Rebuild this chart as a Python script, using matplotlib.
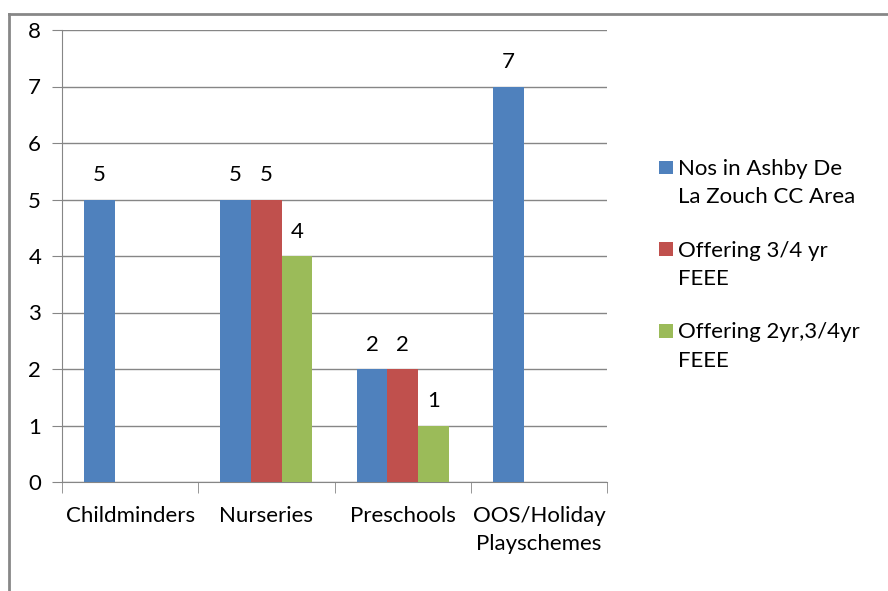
import matplotlib
matplotlib.use("Agg")
import matplotlib.pyplot as plt
import numpy as np
from matplotlib.lines import Line2D
from matplotlib.patches import Rectangle
from matplotlib.legend_handler import HandlerPatch

categories = ["Childminders", "Nurseries", "Preschools", "OOS/Holiday\nPlayschemes"]
series_names = ["Nos in Ashby De\nLa Zouch CC Area", "Offering 3/4 yr\nFEEE", "Offering 2yr,3/4yr\nFEEE"]
nos_ashby = [5, 5, 2, 7]
offering_34 = [0, 5, 2, 0]
offering_2_34 = [0, 4, 1, 0]
yticks = [0, 1, 2, 3, 4, 5, 6, 7, 8]

colors = ["#4F81BD", "#C0504D", "#9BBB59"]
plt.rcParams['font.family'] = ['Lato', 'DejaVu Sans']
fs = 16

fig = plt.figure(figsize=(8.88, 5.91), dpi=100)
ax = fig.add_axes([62/888, 1-482/591, (607-62)/888, (482-30)/591])

x = np.arange(len(categories))
w = 0.225
all_series = [nos_ashby, offering_34, offering_2_34]
legend_handles = []
for i, (vals, c, name) in enumerate(zip(all_series, colors, series_names)):
    pos = x + (i - 1) * w
    mask = [v > 0 for v in vals]
    bars = ax.bar(pos[mask], np.array(vals)[mask], width=w, color=c, label=name, zorder=3)
    legend_handles.append(bars.patches[0])
    for b, v in zip(bars, np.array(vals)[mask]):
        ax.text(b.get_x() + b.get_width()/2, v + 0.43, str(v), ha='center', va='center',
                fontsize=fs, color='#000000')

ax.set_xlim(-0.5, len(categories) - 0.5)
ax.set_ylim(0, 8)
ax.set_yticks(yticks)
ax.set_yticklabels([str(t) for t in yticks], fontsize=fs)
ax.yaxis.grid(True, color='#868686', linewidth=1, zorder=0)
ax.set_xticks(x)
ax.set_xticklabels(categories, fontsize=fs, linespacing=1.5)
ax.set_xticks(np.arange(-0.5, len(categories)), minor=True)
ax.tick_params(axis='x', which='major', length=0, pad=17)
ax.tick_params(axis='x', which='minor', length=8, color='#868686', direction='out')
ax.tick_params(axis='y', length=7, color='#868686', direction='out', pad=8)
for s in ['top', 'right']:
    ax.spines[s].set_visible(False)
for s in ['left', 'bottom']:
    ax.spines[s].set_color('#868686')


class TopSquare(HandlerPatch):
    def create_artists(self, legend, orig_handle, xdescent, ydescent, width, height, fontsize, trans):
        size = 0.62 * fontsize
        r = Rectangle((-xdescent, -ydescent + 0.77 * fontsize), size, size,
                      facecolor=orig_handle.get_facecolor(), edgecolor='none', transform=trans)
        return [r]


leg = fig.legend(legend_handles, series_names, loc='upper left', bbox_to_anchor=(639/888, 1-139/591),
                 frameon=False, fontsize=fs, handlelength=0.62, handleheight=0.75, handletextpad=0.25,
                 labelspacing=1.5, handler_map={Rectangle: TopSquare()})
for t in leg.get_texts():
    t.set_linespacing(1.52)

# outer chart frame
fig.add_artist(Line2D([9/888, 1.0], [1-14/591, 1-14/591], color='#878787', linewidth=2, transform=fig.transFigure))
fig.add_artist(Line2D([9/888, 9/888], [1-14/591, 0], color='#878787', linewidth=2, transform=fig.transFigure))

fig.savefig("out.png", dpi=100)
